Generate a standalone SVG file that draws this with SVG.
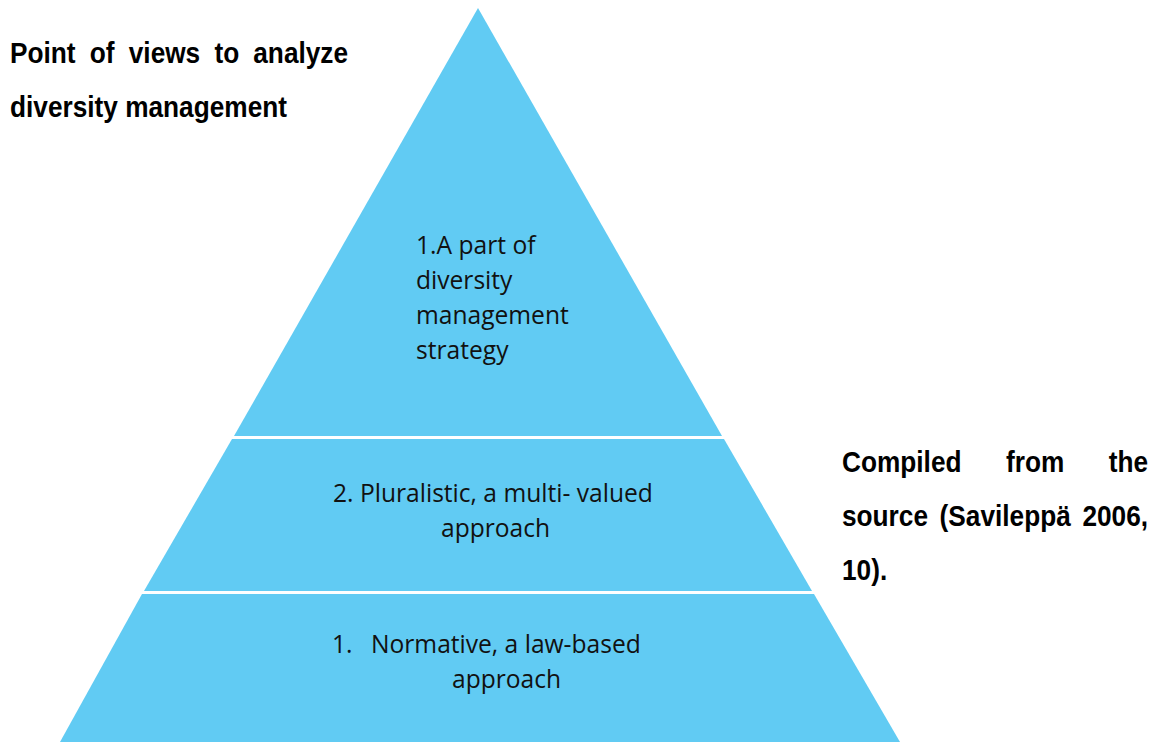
<svg xmlns="http://www.w3.org/2000/svg" width="1160" height="742" viewBox="0 0 1160 742">
  <style>
    .band { fill: #61CBF3; }
    .caption { font-family: "Liberation Sans", Arial, sans-serif; font-weight: bold; font-size: 30px; fill: #000000; }
    .label { font-family: "Open Sans", "Noto Sans", sans-serif; font-size: 24.6px; fill: #111111; }
  </style>
  <rect x="0" y="0" width="1160" height="742" fill="#ffffff"/>

  <!-- heading, justified to the left column; condensed bold face -->
  <g id="heading" class="caption">
    <text x="10" y="63" textLength="65.6" lengthAdjust="spacingAndGlyphs">Point</text>
    <text x="89.8" y="63" textLength="24.8" lengthAdjust="spacingAndGlyphs">of</text>
    <text x="128.8" y="63" textLength="71.4" lengthAdjust="spacingAndGlyphs">views</text>
    <text x="214.4" y="63" textLength="24.8" lengthAdjust="spacingAndGlyphs">to</text>
    <text x="253.3" y="63" textLength="94.7" lengthAdjust="spacingAndGlyphs">analyze</text>
    <text x="10" y="117" textLength="277" lengthAdjust="spacingAndGlyphs">diversity management</text>
  </g>

  <!-- pyramid levels, apex at the top -->
  <g id="level-top">
    <polygon class="band" points="478,8 722,436 234,436"/>
    <text class="label" x="416" y="254">1.A part of</text>
    <text class="label" x="416" y="289">diversity</text>
    <text class="label" x="416" y="324">management</text>
    <text class="label" x="416" y="359">strategy</text>
  </g>

  <g id="level-middle">
    <polygon class="band" points="232,439 724,439 812,591 144,591"/>
    <text class="label" x="333" y="502">2. Pluralistic, a multi- valued</text>
    <text class="label" x="441" y="537">approach</text>
  </g>

  <g id="level-bottom">
    <polygon class="band" points="142,594 814,594 900,742 60,742"/>
    <text class="label" x="332" y="653">1.</text>
    <text class="label" x="371" y="653">Normative, a law-based</text>
    <text class="label" x="452" y="688">approach</text>
  </g>

  <!-- source note, justified; condensed bold face -->
  <g id="source-note" class="caption">
    <text x="842" y="472" textLength="119.5" lengthAdjust="spacingAndGlyphs">Compiled</text>
    <text x="1006" y="472" textLength="58.3" lengthAdjust="spacingAndGlyphs">from</text>
    <text x="1108.7" y="472" textLength="39.3" lengthAdjust="spacingAndGlyphs">the</text>
    <text x="842" y="526" textLength="86" lengthAdjust="spacingAndGlyphs">source</text>
    <text x="939.6" y="526" textLength="131.2" lengthAdjust="spacingAndGlyphs">(Savileppä</text>
    <text x="1082.4" y="526" textLength="65.6" lengthAdjust="spacingAndGlyphs">2006,</text>
    <text x="842" y="580" textLength="45.2" lengthAdjust="spacingAndGlyphs">10).</text>
  </g>

  <g id="connectors"/>
</svg>
